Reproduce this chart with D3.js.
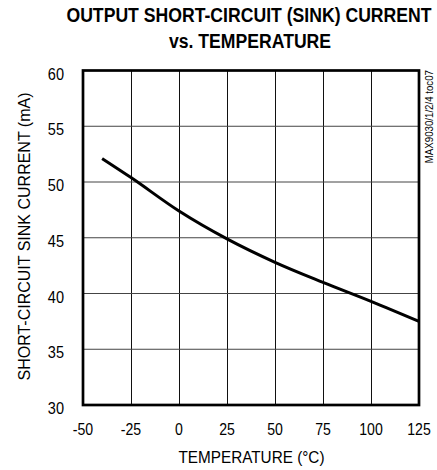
<!DOCTYPE html>
<html>
<head>
<meta charset="utf-8">
<script src="https://cdn.jsdelivr.net/npm/d3@7"></script>
<style>
  body { margin: 0; background: #fff; }
  svg text { font-family: "Liberation Sans", Arial, sans-serif; fill: #000; }
</style>
</head>
<body>
<svg id="chart"></svg>
<script>
// chart data
const temps = [-40, -25, 0, 25, 50, 75, 100, 125];
const sinkCurrent = [52.1, 50.4, 47.4, 44.9, 42.8, 41.0, 39.3, 37.5];
const xTicks = [-50, -25, 0, 25, 50, 75, 100, 125];
const yTicks = [30, 35, 40, 45, 50, 55, 60];

const W = 437, H = 470;
const plot = { left: 83, right: 419, top: 70.5, bottom: 405 };
// the datasheet uses a condensed face, squeeze Liberation Sans to match
const NARROW = 0.83;

const svg = d3.select('#chart').attr('width', W).attr('height', H);

const x = d3.scaleLinear().domain([-50, 125]).range([plot.left, plot.right]);
const y = d3.scaleLinear().domain([30, 60]).range([plot.bottom, plot.top]);

// title
svg.append('text')
	.attr('transform', 'translate(249,22) scale(' + 0.86 + ',1)')
	.attr('text-anchor', 'middle')
	.attr('font-weight', 'bold')
	.attr('font-size', '20.5px')
	.text('OUTPUT SHORT-CIRCUIT (SINK) CURRENT');
svg.append('text')
	.attr('transform', 'translate(250,48) scale(' + 0.86 + ',1)')
	.attr('text-anchor', 'middle')
	.attr('font-weight', 'bold')
	.attr('font-size', '20.5px')
	.text('vs. TEMPERATURE');

// grid
const grid = svg.append('g').attr('stroke', '#111').attr('stroke-width', 1);
grid.selectAll('line.vx').data(xTicks.slice(1, -1)).enter().append('line')
	.attr('class', 'vx')
	.attr('x1', d => Math.round(x(d)) + 0.5).attr('x2', d => Math.round(x(d)) + 0.5)
	.attr('y1', plot.top).attr('y2', plot.bottom);
grid.selectAll('line.hy').data(yTicks.slice(1, -1)).enter().append('line')
	.attr('class', 'hy')
	.attr('stroke', '#444')
	.attr('y1', d => y(d)).attr('y2', d => y(d))
	.attr('x1', plot.left).attr('x2', plot.right);

// curve
const line = d3.line()
	.x((d, i) => x(temps[i]))
	.y(d => y(d))
	.curve(d3.curveMonotoneX);
svg.append('path')
	.datum(sinkCurrent)
	.attr('fill', 'none')
	.attr('stroke', '#000')
	.attr('stroke-width', 3)
	.attr('d', line);

// frame
svg.append('rect')
	.attr('x', plot.left).attr('y', plot.top)
	.attr('width', plot.right - plot.left).attr('height', plot.bottom - plot.top)
	.attr('fill', 'none').attr('stroke', '#000').attr('stroke-width', 2.7);

// tick labels
svg.append('g').selectAll('text').data(xTicks).enter().append('text')
	.attr('transform', d => 'translate(' + x(d) + ',435) scale(' + NARROW + ',1)')
	.attr('text-anchor', 'middle')
	.attr('font-size', '17px')
	.text(d => d);
svg.append('g').selectAll('text').data(yTicks).enter().append('text')
	.attr('transform', d => 'translate(64,' + (y(d) + 9) + ') scale(' + 0.88 + ',1)')
	.attr('text-anchor', 'end')
	.attr('font-size', '16.5px')
	.text(d => d);

// axis titles
svg.append('text')
	.attr('transform', 'translate(251.5,463) scale(0.9,1)')
	.attr('text-anchor', 'middle')
	.attr('font-size', '17px')
	.text('TEMPERATURE (°C)');
svg.append('text')
	.attr('transform', 'translate(30,236.5) rotate(-90)')
	.attr('text-anchor', 'middle')
	.attr('font-size', '16px')
	.text('SHORT-CIRCUIT SINK CURRENT (mA)');

// part number tag
svg.append('text')
	.attr('transform', 'translate(433,70) rotate(-90) scale(0.97,1)')
	.attr('text-anchor', 'end')
	.attr('font-size', '10px')
	.text('MAX9030/1/2/4 toc07');
</script>
</body>
</html>
